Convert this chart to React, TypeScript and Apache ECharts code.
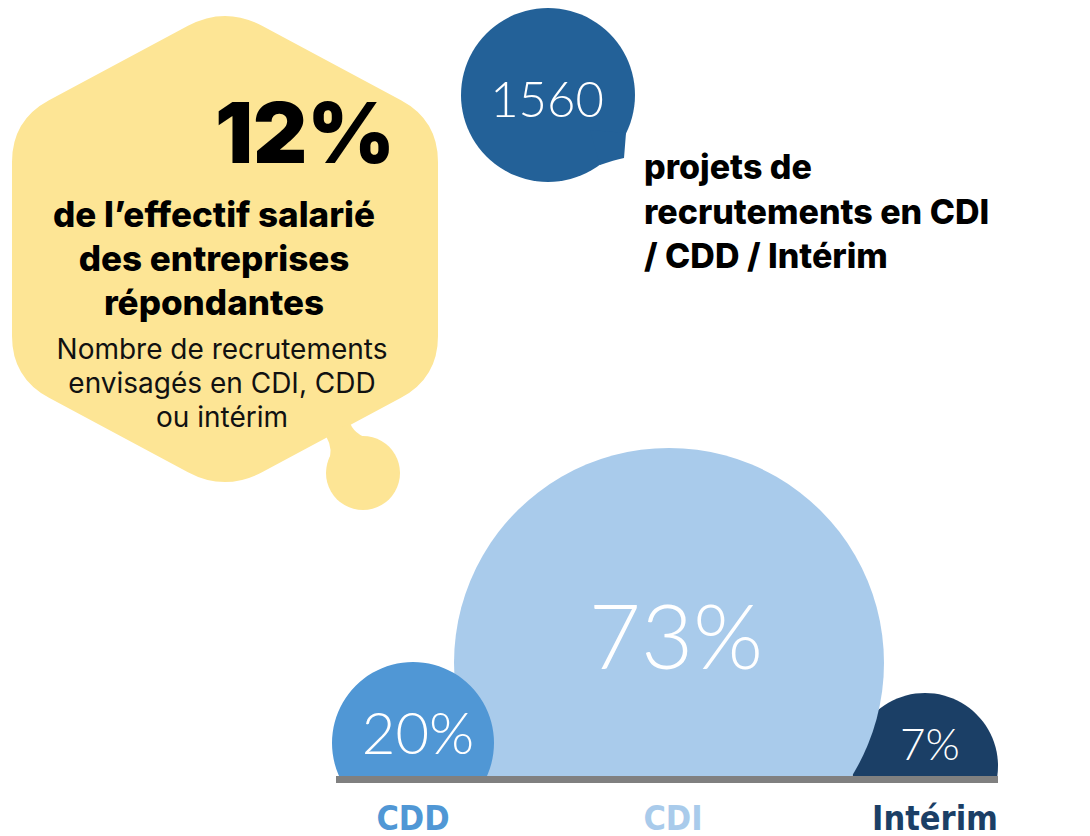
import React, { useEffect, useRef } from "react";
import * as echarts from "echarts";

// ---- Data ----
const CATEGORIES = ["CDD", "CDI", "Intérim"];
const SHARES = [20, 73, 7];
const TOTAL_PROJECTS = 1560;
const EFFECTIF_SHARE = 12;

// ---- Texts ----
const HEADLINE_LINES = ["de l’effectif salarié", "des entreprises", "répondantes"];
const SUBTITLE_LINES = ["Nombre de recrutements", "envisagés en CDI, CDD", "ou intérim"];
const PROJECT_LINES = ["projets de", "recrutements en CDI", "/ CDD / Intérim"];

// ---- Styles / layout (not data) ----
const COLORS = ["#5097d5", "#a9cbeb", "#1b3f66"];
const BUBBLE_RADIUS = [81, 215, 73];
const BUBBLE_LIFT = [35, 115, 12];
const BUBBLE_Z = [3, 2, 1];
const LABEL_DX = [5, 7, 5];
const LABEL_DY = [-12, -29, -23];
const LABEL_SIZE = [58, 90, 44];
const CAT_LABEL_SHIFT = [0, 8, 20];
const YELLOW = "#fde595";
const NAVY = "#236198";
const CONDENSED = "'DejaVu Sans Condensed', 'DejaVu Sans', sans-serif";
const GEO = "Inter, 'Noto Sans', sans-serif";

const HEX_PATH =
  "M188 25.8 Q225 6 262 25.8 L401 100.2 Q438 120 438 162 L438 336 Q438 378 401 397.8 L262 472.2 Q225 492 188 472.2 L49 397.8 Q12 378 12 336 L12 162 Q12 120 49 100.2 Z";
const NECK_PATH = "M326 436 L350 423 Q356 438 378 440 L363 473 L328 463 Q334 450 326 436 Z";
const TAIL_PATH = "M626 133 L624 158 Q614 160 600 165 L590 130 Z";

let registered = false;
function registerShapes() {
  if (registered) return;
  echarts.graphic.registerShape("hexBlob", echarts.graphic.extendPath(HEX_PATH, {}));
  echarts.graphic.registerShape("hexNeck", echarts.graphic.extendPath(NECK_PATH, {}));
  echarts.graphic.registerShape("bubbleTail", echarts.graphic.extendPath(TAIL_PATH, {}));
  registered = true;
}

const txt = (
  text: string,
  x: number,
  y: number,
  size: number,
  weight: any,
  fill: string,
  align: string,
  family: string,
  lineHeight?: number,
  vAlign = "middle"
) => ({
  type: "text",
  x,
  y,
  z: 50,
  style: {
    text,
    fill,
    fontSize: size,
    fontWeight: weight,
    fontFamily: family,
    lineHeight: lineHeight || size,
    align,
    textAlign: align,
    verticalAlign: vAlign,
    textVerticalAlign: vAlign,
  },
});

const catLabel = (i: number) => ({
  color: COLORS[i],
  fontSize: 34,
  lineHeight: 31,
  fontWeight: "bold",
  fontFamily: CONDENSED,
  padding: [0, 0, 0, CAT_LABEL_SHIFT[i]],
});

export default function App() {
  const ref = useRef<HTMLDivElement>(null);

  useEffect(() => {
    if (!ref.current) return;
    registerShapes();
    const chart = echarts.init(ref.current, null, { renderer: "svg" });

    const option: any = {
      animation: false,
      backgroundColor: "#ffffff",
      grid: { left: 285, width: 768, top: 0, bottom: 58 },
      xAxis: {
        type: "category",
        data: CATEGORIES,
        boundaryGap: true,
        axisLine: { show: false },
        axisTick: { show: false },
        splitLine: { show: false },
        axisLabel: {
          margin: 24,
          formatter: (v: string, i: number) => `{c${i}|${v}}`,
          rich: { c0: catLabel(0), c1: catLabel(1), c2: catLabel(2) },
        },
      },
      yAxis: { type: "value", min: 0, max: 100, show: false },
      series: [
        {
          type: "custom",
          clip: true,
          data: CATEGORIES.map((c, i) => [i, SHARES[i]]),
          encode: { x: 0, y: 1 },
          renderItem: (params: any, api: any) => {
            const idx = params.dataIndex;
            const p = api.coord([api.value(0), 0]);
            const cx = p[0];
            const cy = p[1] - BUBBLE_LIFT[idx];
            return {
              type: "group",
              children: [
                {
                  type: "circle",
                  z2: BUBBLE_Z[idx],
                  shape: { cx, cy, r: BUBBLE_RADIUS[idx] },
                  style: { fill: COLORS[idx] },
                },
                {
                  type: "text",
                  z2: 10,
                  x: cx + LABEL_DX[idx],
                  y: cy + LABEL_DY[idx],
                  style: {
                    text: `${api.value(1)}%`,
                    fill: "#ffffff",
                    fontSize: LABEL_SIZE[idx],
                    fontWeight: 300,
                    fontFamily: "Lato",
                    align: "center",
                    verticalAlign: "middle",
                  },
                },
              ],
            };
          },
        },
      ],
      graphic: [
        { type: "hexBlob", x: 0, y: 0, z: 1, style: { fill: YELLOW } },
        { type: "hexNeck", x: 0, y: 0, z: 1, style: { fill: YELLOW } },
        { type: "circle", z: 1, shape: { cx: 363, cy: 473, r: 37 }, style: { fill: YELLOW } },
        { type: "circle", z: 1, shape: { cx: 548, cy: 95, r: 87 }, style: { fill: NAVY } },
        { type: "bubbleTail", x: 0, y: 0, z: 1, style: { fill: NAVY } },
        txt(String(TOTAL_PROJECTS), 547, 98, 49, 300, "#ffffff", "center", "Lato"),
        txt(`${EFFECTIF_SHARE}%`, 305, 132, 84, 900, "#000000", "center", GEO),
        txt(HEADLINE_LINES.join("\n"), 214, 258, 35, 800, "#000000", "center", GEO, 44),
        txt(SUBTITLE_LINES.join("\n"), 222, 383, 28, 400, "#111111", "center", GEO, 34),
        txt(PROJECT_LINES.join("\n"), 644, 211, 34, 800, "#000000", "left", GEO, 44.5),
        { type: "rect", z: 100, shape: { x: 336, y: 776, width: 662, height: 7 }, style: { fill: "#808080" } },
      ],
    };

    chart.setOption(option);
    return () => chart.dispose();
  }, []);

  return (
    <div
      ref={ref}
      style={{ position: "absolute", left: 0, top: 0, width: 1090, height: 836, background: "#fff" }}
    />
  );
}
